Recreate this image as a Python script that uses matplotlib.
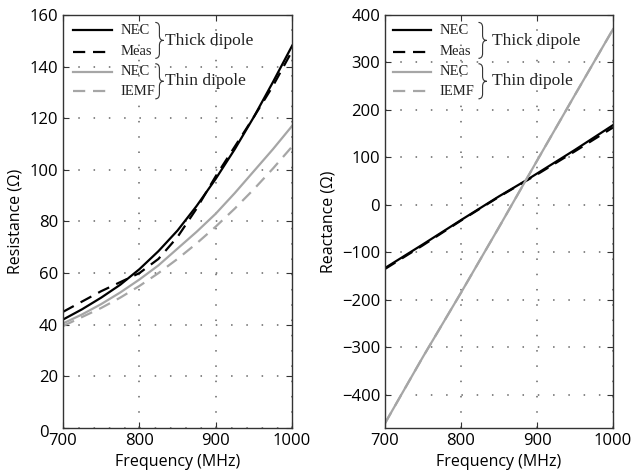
import matplotlib
matplotlib.use("Agg")
import matplotlib.pyplot as plt
from matplotlib.path import Path
from matplotlib.patches import PathPatch
import matplotlib.transforms as mtransforms

# ---- data ----
freq_r = [700, 725, 750, 775, 800, 825, 850, 875, 900, 925, 950, 975, 1000]
thick_nec_r = [42, 46, 50.5, 55.5, 61.5, 68.5, 76.5, 86, 96.5, 108, 120.5, 134, 148]
thick_meas_r = [45, 49, 53, 56.5, 60, 65.5, 74, 85, 97.5, 109, 120.5, 132.5, 146]
thin_nec_r = [40.5, 44, 48, 52.5, 57.5, 63, 69.5, 76, 83, 91, 99.5, 108, 117]
thin_iemf_r = [39.5, 43, 46.5, 50.5, 55, 60, 65.5, 71.5, 78, 85, 92.5, 100.5, 109]

freq_x = [700, 750, 800, 850, 885, 900, 950, 1000]
thick_nec_x = [-133, -83, -32, 18, 51, 66, 116, 168]
thick_meas_x = [-135, -85, -33, 17, 50, 64, 113, 163]
freq_xt = [700, 750, 800, 850, 900, 950, 1000]
thin_nec_x = [-460, -320, -185, -47, 93, 232, 370]
thin_iemf_x = [-460, -320, -185, -47, 93, 232, 370]

xticks = [700, 800, 900, 1000]
r_ticks = [0, 20, 40, 60, 80, 100, 120, 140, 160]
x_ticks = [-400, -300, -200, -100, 0, 100, 200, 300, 400]

plt.rcParams['font.family'] = ['Open Sans', 'DejaVu Sans']

fig = plt.figure(figsize=(6.36, 4.74), dpi=100)
ax1 = fig.add_axes([63/636, 46/474, 229/636, 413/474])
ax2 = fig.add_axes([385/636, 46/474, 228/636, 413/474])

BLK = 'black'
GRY = '#a6a6a6'
lw = 1.6
DASH = (0, (5.5, 3.5))

ax1.plot(freq_r, thick_nec_r, color=BLK, lw=lw)
ax1.plot(freq_r, thick_meas_r, color=BLK, lw=lw, ls=DASH)
ax1.plot(freq_r, thin_nec_r, color=GRY, lw=lw)
ax1.plot(freq_r, thin_iemf_r, color=GRY, lw=lw, ls=DASH)
ax1.set_ylim(0, 160)
ax1.set_yticks(r_ticks)
ax1.set_ylabel('Resistance (Ω)', fontsize=11.5)

ax2.plot(freq_x, thick_nec_x, color=BLK, lw=lw)
ax2.plot(freq_x, thick_meas_x, color=BLK, lw=lw, ls=DASH)
ax2.plot(freq_xt, thin_nec_x, color=GRY, lw=lw)
ax2.plot(freq_xt, thin_iemf_x, color=GRY, lw=lw, ls=DASH)
ax2.set_ylim(-470, 400)
ax2.set_yticks(x_ticks)
ax2.set_yticklabels([str(t).replace('-', '\u2212') for t in x_ticks])
ax2.set_ylabel('Reactance (Ω)', fontsize=11.5)


def brace(ax, x0, ytop, ybot, w):
    ym = (ytop + ybot) / 2
    h = 0.012
    xm = x0 + w * 0.5
    verts = [(x0, ytop), (xm, ytop), (xm, ytop - h),
             (xm, ym + h),
             (xm, ym), (x0 + w, ym),
             (xm, ym), (xm, ym - h),
             (xm, ybot + h),
             (xm, ybot), (x0, ybot)]
    codes = [Path.MOVETO, Path.CURVE3, Path.CURVE3,
             Path.LINETO,
             Path.CURVE3, Path.CURVE3,
             Path.CURVE3, Path.CURVE3,
             Path.LINETO,
             Path.CURVE3, Path.CURVE3]
    ax.add_patch(PathPatch(Path(verts, codes), transform=ax.transAxes,
                           fill=False, lw=0.8, color='#333333', clip_on=False))


def legend(ax, x_l0, x_l1, x_t, x_b, x_g):
    rows = [(0.963, BLK, '-', 'NEC'), (0.911, BLK, DASH, 'Meas'),
            (0.863, GRY, '-', 'NEC'), (0.815, GRY, DASH, 'IEMF')]
    for y, c, ls, lab in rows:
        ax.plot([x_l0, x_l1], [y, y], transform=ax.transAxes, color=c, ls=ls, lw=lw)
        ax.text(x_t, y, lab, transform=ax.transAxes, va='center', ha='left',
                fontsize=10.5, family=['Liberation Serif'], color='#222222')
    brace(ax, x_b, 0.982, 0.895, 0.036)
    brace(ax, x_b, 0.882, 0.797, 0.036)
    ax.text(x_g, 0.938, 'Thick dipole', transform=ax.transAxes, va='center', ha='left',
            fontsize=12.5, family=['Liberation Serif'], color='#222222')
    ax.text(x_g, 0.840, 'Thin dipole', transform=ax.transAxes, va='center', ha='left',
            fontsize=12.5, family=['Liberation Serif'], color='#222222')


legend(ax1, 0.042, 0.212, 0.25, 0.403, 0.445)
legend(ax2, 0.035, 0.200, 0.241, 0.41, 0.47)

for ax in (ax1, ax2):
    ax.set_xlim(700, 1000)
    ax.set_xticks(xticks)
    ax.set_xlabel('Frequency (MHz)', fontsize=11.5)
    ax.grid(True, color='#666666', ls=(0, (1, 9)), lw=1.1)
    ax.tick_params(direction='in', top=True, right=True, labelsize=12, length=4, color='#333333')
    for s in ax.spines.values():
        s.set_linewidth(1.0)
        s.set_color('#333333')

# MATLAB-like placement of the "0" label at the lower-left corner
lbl0 = ax1.get_yticklabels()[0]
lbl0.set_transform(lbl0.get_transform() + mtransforms.ScaledTranslation(-9/100, -3/100, fig.dpi_scale_trans))

fig.savefig('out.png', dpi=100)
